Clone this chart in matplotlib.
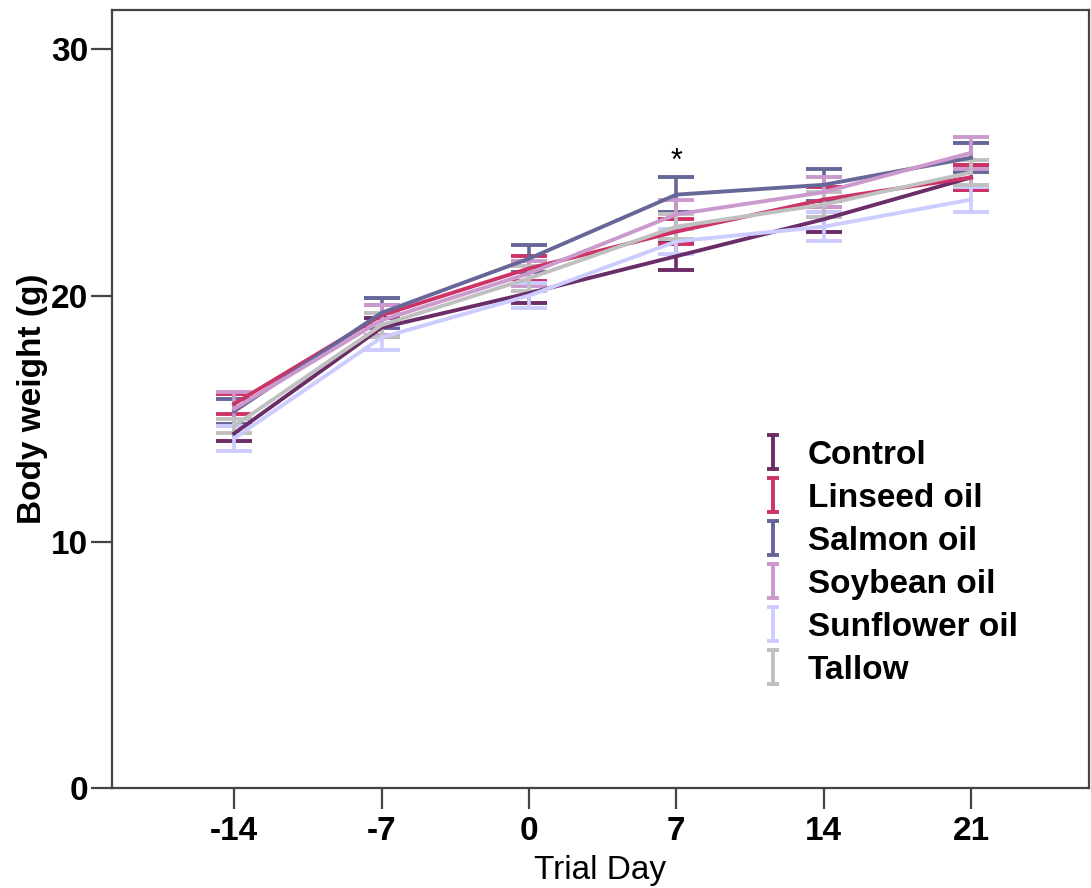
import numpy as np
import matplotlib
matplotlib.use("Agg")
import matplotlib.pyplot as plt

plt.rcParams["font.family"] = ["Liberation Sans", "DejaVu Sans"]
plt.rcParams["axes.unicode_minus"] = False

# dados (média ± EP)
days = [-14, -7, 0, 7, 14, 21]
groups = ["Control", "Linseed oil", "Salmon oil", "Soybean oil", "Sunflower oil", "Tallow"]
colors = ["#6b2d67", "#cc3366", "#666699", "#cc99cc", "#ccccff", "#c0c0c0"]

control = [14.4, 18.7, 20.1, 21.6, 23.1, 24.8]
linseed = [15.6, 19.2, 21.1, 22.6, 23.9, 24.8]
salmon = [15.3, 19.3, 21.5, 24.1, 24.5, 25.6]
soybean = [15.4, 19.0, 20.9, 23.3, 24.2, 25.8]
sunflower = [14.2, 18.3, 20.0, 22.2, 22.8, 23.9]
tallow = [14.7, 18.8, 20.7, 22.8, 23.7, 25.0]

control_se = [0.3, 0.4, 0.4, 0.55, 0.5, 0.5]
linseed_se = [0.4, 0.4, 0.5, 0.5, 0.5, 0.5]
salmon_se = [0.5, 0.6, 0.55, 0.7, 0.65, 0.6]
soybean_se = [0.7, 0.6, 0.5, 0.6, 0.6, 0.65]
sunflower_se = [0.5, 0.5, 0.5, 0.5, 0.6, 0.5]
tallow_se = [0.3, 0.5, 0.5, 0.5, 0.5, 0.5]

means = [control, linseed, salmon, soybean, sunflower, tallow]
errs = [control_se, linseed_se, salmon_se, soybean_se, sunflower_se, tallow_se]

fig = plt.figure(figsize=(10.91, 8.88), dpi=100)
ax = fig.add_axes([112 / 1091, 100 / 888, 977 / 1091, 778 / 888])

for name, col, m, e in zip(groups, colors, means, errs):
    ax.plot(days, m, color=col, lw=2.8, zorder=3)
    ax.errorbar(days, m, yerr=e, fmt="none", ecolor=col, elinewidth=2.6,
                capsize=13, capthick=2.8, zorder=2)
    # proxy só para a legenda (ícone "I")
    ax.errorbar([np.nan], [np.nan], yerr=[np.nan], fmt="none", ecolor=col,
                elinewidth=2.8, capsize=4, capthick=2.8, label=name)

ax.text(7, 25.45, "*", ha="center", va="center", fontsize=22)

ax.set_xlim(-19.8, 26.6)
ax.set_ylim(0, 31.6)
ax.set_xticks(days)
ax.set_yticks([0, 10, 20, 30])
ax.tick_params(axis="both", direction="out", length=15, width=1.6,
               color="#444444", labelsize=24)
ax.tick_params(axis="x", pad=5)
ax.tick_params(axis="y", pad=2)
for lab in ax.get_xticklabels() + ax.get_yticklabels():
    lab.set_fontweight("bold")
for sp in ax.spines.values():
    sp.set_color("#444444")
    sp.set_linewidth(1.6)

ax.set_xlabel("Trial Day", fontsize=24, labelpad=6)
ax.set_ylabel("Body weight (g)", fontsize=24, fontweight="bold", labelpad=2)

ax.legend(loc="upper left", bbox_to_anchor=(0.651, 0.469), frameon=False,
          prop={"weight": "bold", "size": 24},
          handlelength=0.5, handletextpad=0.8, labelspacing=0.36, borderpad=0)

fig.savefig("out.png", dpi=100)
